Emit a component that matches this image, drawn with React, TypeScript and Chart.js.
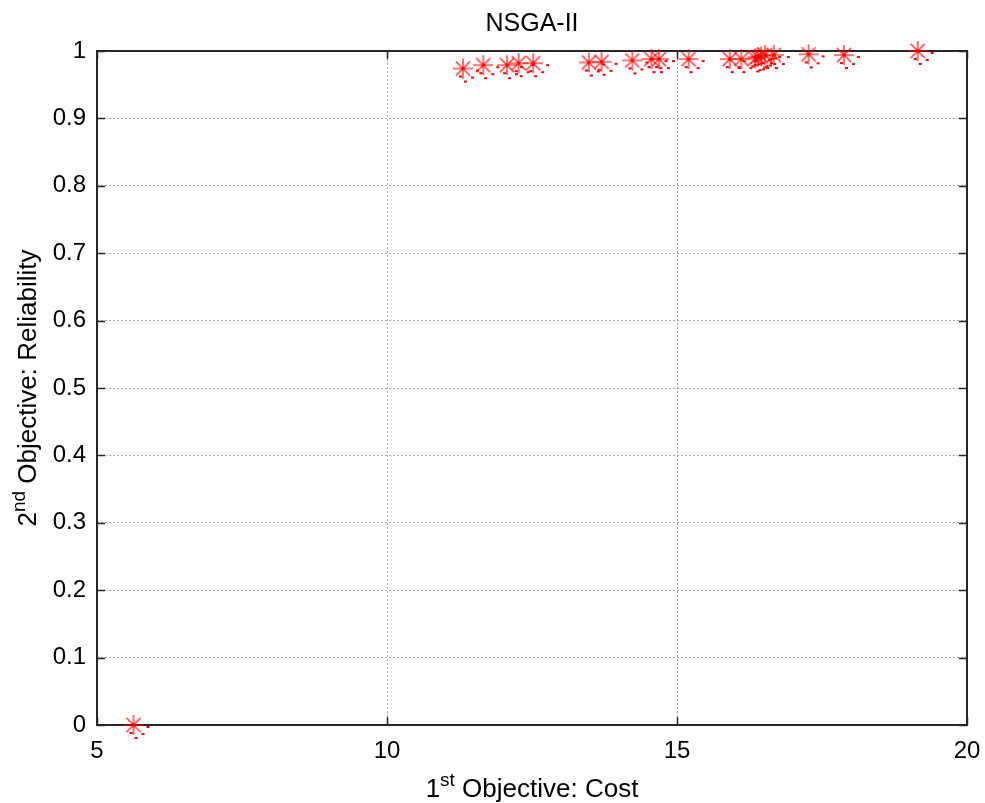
import React, { useEffect, useRef } from "react";
import { Chart, registerables } from "chart.js";

Chart.register(...registerables);

// Pareto front found by NSGA-II: cost vs. reliability
const costValues = [
  5.63, 11.31, 11.66, 12.07, 12.27, 12.52, 13.48, 13.7, 14.23, 14.56, 14.69,
  15.2, 15.91, 16.11, 16.35, 16.39, 16.45, 16.52, 16.67, 17.27, 17.88, 19.15,
];
const reliabilityValues = [
  0.0, 0.974, 0.979, 0.979, 0.982, 0.982, 0.983, 0.984, 0.986, 0.988, 0.988,
  0.988, 0.988, 0.988, 0.989, 0.991, 0.992, 0.994, 0.994, 0.995, 0.994, 1.0,
];

const xTickValues = [5, 10, 15, 20];
const yTickValues = [0, 0.1, 0.2, 0.3, 0.4, 0.5, 0.6, 0.7, 0.8, 0.9, 1];

const titleText = "NSGA-II";
const xTitleParts = [
  { text: "1", sup: false },
  { text: "st", sup: true },
  { text: " Objective: Cost", sup: false },
];
const yTitleParts = [
  { text: "2", sup: false },
  { text: "nd", sup: true },
  { text: " Objective: Reliability", sup: false },
];

const FONT = "'Liberation Sans', Arial, Helvetica, sans-serif";

type Part = { text: string; sup: boolean };

// Asterisk marker, drawn once into a small canvas and used as the point style
function makeAsteriskMarker(): HTMLCanvasElement {
  const size = 40;
  const c = document.createElement("canvas");
  c.width = size;
  c.height = size;
  const g = c.getContext("2d")!;
  const m = size / 2;
  const r = 10;
  const d = r * Math.SQRT1_2;
  g.strokeStyle = "rgba(255,0,0,0.7)";
  g.lineWidth = 1.6;
  g.beginPath();
  g.moveTo(m - r, m);
  g.lineTo(m + r, m);
  g.moveTo(m, m - r);
  g.lineTo(m, m + r);
  g.moveTo(m - d, m - d);
  g.lineTo(m + d, m + d);
  g.moveTo(m - d, m + d);
  g.lineTo(m + d, m - d);
  g.stroke();
  g.fillStyle = "#ff0000";
  g.fillRect(m - 1.5, m - 1.5, 3, 3);
  // small solid ticks around the lower right of the glyph
  g.fillRect(m - 4, m + 7, 3, 2);
  g.fillRect(m + 1, m + 12, 3, 2);
  g.fillRect(m + 8, m + 8, 3, 2);
  g.fillRect(m + 13, m + 1, 3, 2);
  return c;
}

function drawParts(
  ctx: CanvasRenderingContext2D,
  parts: Part[],
  size: number,
  cx: number,
  baseline: number
) {
  const supSize = Math.round(size * 0.72);
  const widths = parts.map((p) => {
    ctx.font = `${p.sup ? supSize : size}px ${FONT}`;
    return ctx.measureText(p.text).width;
  });
  const total = widths.reduce((a, b) => a + b, 0);
  let x = cx - total / 2;
  ctx.textAlign = "left";
  ctx.textBaseline = "alphabetic";
  parts.forEach((p, i) => {
    ctx.font = `${p.sup ? supSize : size}px ${FONT}`;
    ctx.fillText(p.text, x, p.sup ? baseline - size * 0.42 : baseline);
    x += widths[i];
  });
}

// Axes box, inward tick marks and the text labels
const framePlugin = {
  id: "matlabFrame",
  beforeDatasetsDraw(chart: any) {
    const { ctx, chartArea: a, scales } = chart;
    const tick = 8;
    ctx.save();
    ctx.strokeStyle = "#262626";
    ctx.lineWidth = 1.5;
    ctx.beginPath();
    xTickValues.forEach((v) => {
      const px = Math.round(scales.x.getPixelForValue(v)) + 0.5;
      ctx.moveTo(px, a.bottom);
      ctx.lineTo(px, a.bottom - tick);
      ctx.moveTo(px, a.top);
      ctx.lineTo(px, a.top + tick);
    });
    yTickValues.forEach((v) => {
      const py = Math.round(scales.y.getPixelForValue(v)) + 0.5;
      ctx.moveTo(a.left, py);
      ctx.lineTo(a.left + tick, py);
      ctx.moveTo(a.right, py);
      ctx.lineTo(a.right - tick, py);
    });
    ctx.stroke();
    ctx.lineWidth = 2;
    ctx.strokeRect(a.left, a.top, a.right - a.left, a.bottom - a.top);
    ctx.restore();
  },
  afterDraw(chart: any) {
    const { ctx, chartArea: a } = chart;
    const cx = (a.left + a.right) / 2;
    const cy = (a.top + a.bottom) / 2;
    ctx.save();
    ctx.fillStyle = "#000";
    ctx.font = `25px ${FONT}`;
    ctx.textAlign = "center";
    ctx.textBaseline = "alphabetic";
    ctx.fillText(titleText, cx, 31);
    drawParts(ctx, xTitleParts, 26, cx, 797);
    ctx.translate(36, cy);
    ctx.rotate(-Math.PI / 2);
    drawParts(ctx, yTitleParts, 26, 0, 0);
    ctx.restore();
  },
};

export default function App() {
  const canvasRef = useRef<HTMLCanvasElement | null>(null);

  useEffect(() => {
    document.body.style.margin = "0";
    const canvas = canvasRef.current;
    if (!canvas) return;
    const points = costValues.map((c, i) => ({ x: c, y: reliabilityValues[i] }));
    const marker = makeAsteriskMarker();
    const chart = new Chart(canvas, {
      type: "scatter",
      data: {
        datasets: [
          {
            data: points,
            pointStyle: marker as any,
            pointRadius: 10,
            pointHoverRadius: 10,
            borderColor: "#ff0000",
            backgroundColor: "#ff0000",
            clip: false,
          },
        ],
      },
      options: {
        responsive: false,
        animation: false,
        events: [],
        layout: { padding: { top: 51, right: 18, left: 0, bottom: 0 } },
        plugins: {
          legend: { display: false },
          title: { display: false },
          tooltip: { enabled: false },
        },
        scales: {
          x: {
            type: "linear",
            min: 5,
            max: 20,
            afterBuildTicks: (s: any) => {
              s.ticks = xTickValues.map((v) => ({ value: v }));
            },
            afterFit: (s: any) => {
              s.height = 78;
              s.paddingLeft = 0;
              s.paddingRight = 0;
            },
            grid: { color: "#a8a8a8", lineWidth: 1, drawTicks: false },
            border: { display: false, dash: [2, 2] },
            ticks: {
              padding: 12,
              color: "#000",
              font: { family: FONT, size: 24 },
              maxRotation: 0,
            },
          },
          y: {
            type: "linear",
            min: 0,
            max: 1,
            afterBuildTicks: (s: any) => {
              s.ticks = yTickValues.map((v) => ({ value: v }));
            },
            afterFit: (s: any) => {
              s.width = 97;
              s.paddingTop = 0;
              s.paddingBottom = 0;
            },
            grid: { color: "#a8a8a8", lineWidth: 1, drawTicks: false },
            border: { display: false, dash: [2, 2] },
            ticks: {
              padding: 11,
              color: "#000",
              font: { family: FONT, size: 24 },
              callback: (v: any) => String(v),
            },
          },
        },
      },
      plugins: [framePlugin],
    });
    return () => chart.destroy();
  }, []);

  return (
    <div style={{ position: "absolute", left: 0, top: 0, width: 985, height: 803, background: "#fff" }}>
      <canvas ref={canvasRef} width={985} height={803} />
    </div>
  );
}
